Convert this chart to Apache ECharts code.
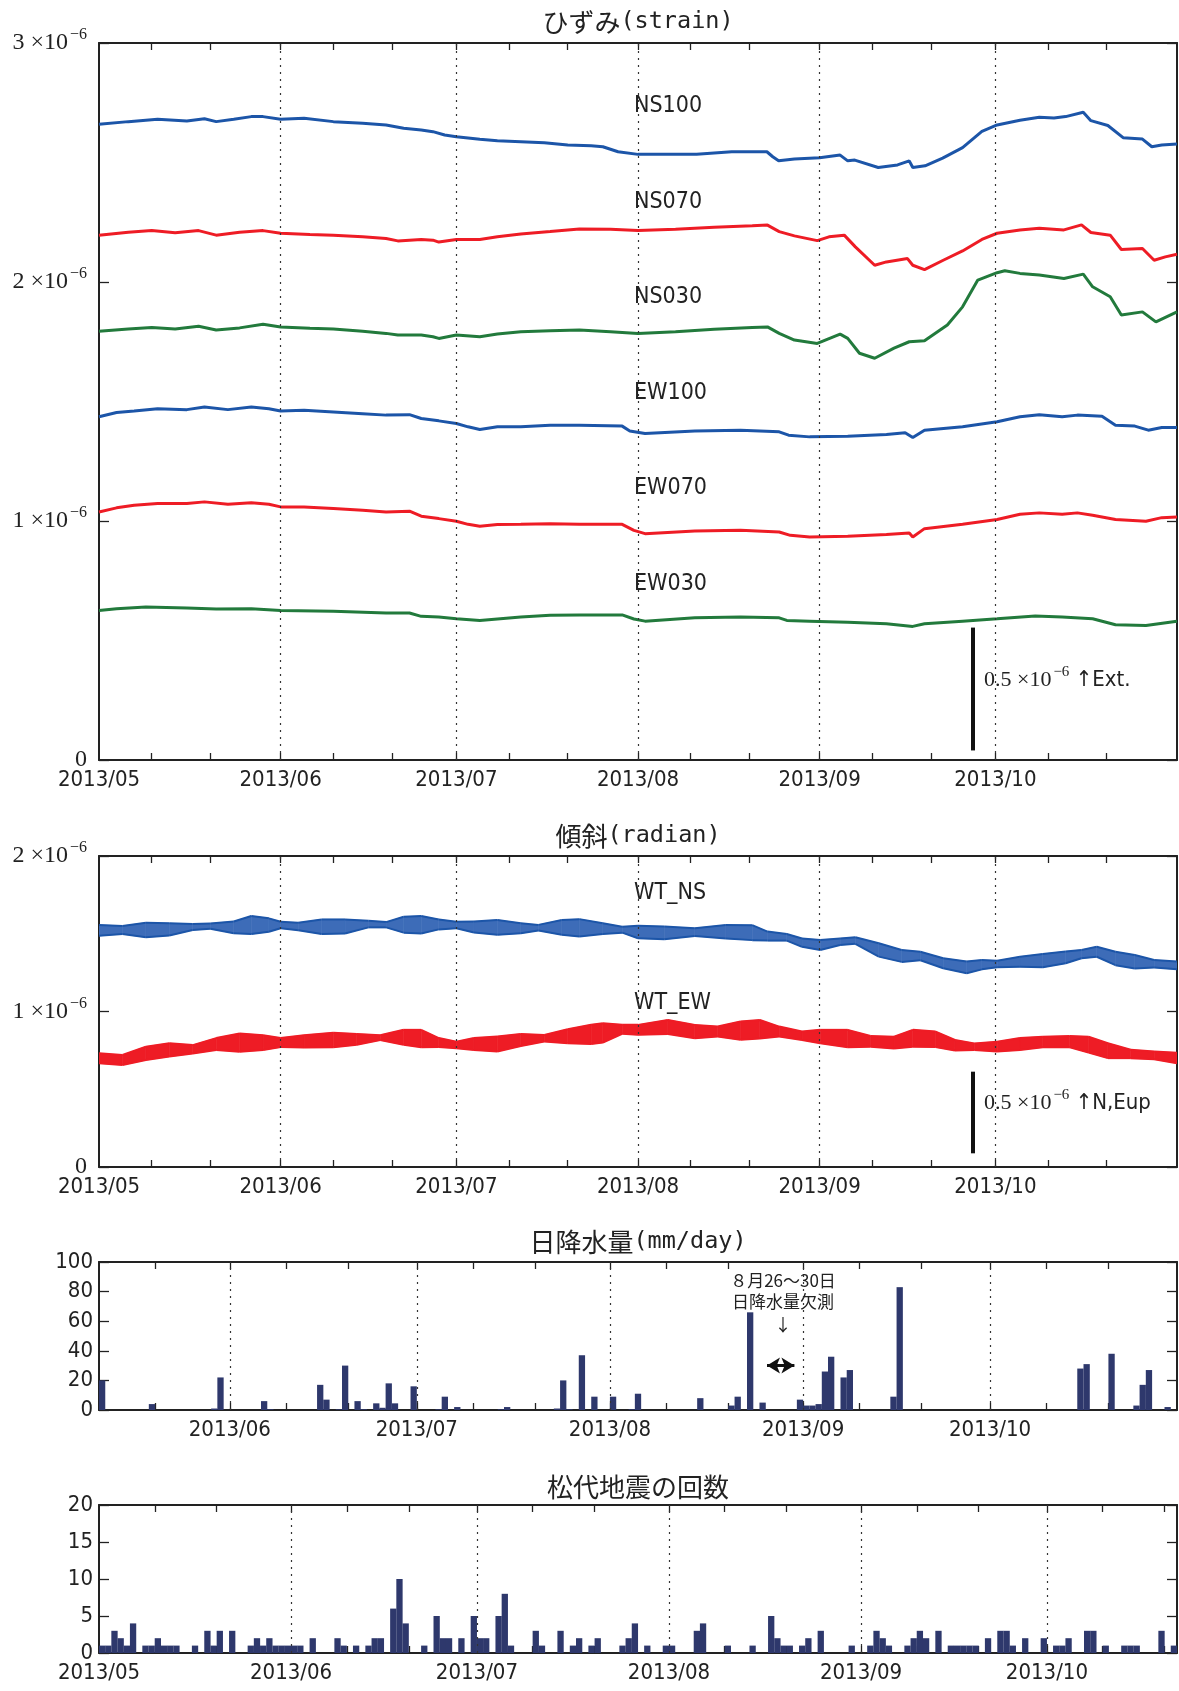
<!DOCTYPE html>
<html><head><meta charset="utf-8">
<script src="https://cdn.jsdelivr.net/npm/echarts@6/dist/echarts.min.js"></script>
<style>html,body{margin:0;padding:0;background:#fff}#c{width:1179px;height:1691px}</style>
</head><body><div id="c"></div>
<script>
// ---- axis tick labels / positions (day index from 2013-05-01) ----
const MONTH_DAYS = [0, 31, 61, 92, 123, 153];
const MONTH_LABELS = ['2013/05', '2013/06', '2013/07', '2013/08', '2013/09', '2013/10'];
const MINOR_DAYS = [9, 19, 40, 50, 70, 80, 101, 111, 132, 142, 162, 172];

// ---- strain (x1e-6): [day, value] ----
const NS100 = [[0,2.660],[5,2.671],[10,2.681],[15,2.674],[18,2.683],[20,2.671],[23,2.681],[26,2.692],[28,2.692],[31,2.681],[35,2.685],[40,2.671],[45,2.664],[49,2.657],[52,2.643],[55,2.636],[57,2.629],[59,2.615],[61,2.608],[65,2.597],[68,2.591],[72,2.587],[76,2.583],[80,2.573],[84,2.570],[86,2.566],[88.6,2.545],[92,2.534],[97,2.535],[102,2.535],[108,2.545],[114,2.545],[115,2.524],[116,2.507],[118.7,2.515],[123,2.520],[126.5,2.531],[127.8,2.507],[129,2.510],[133,2.479],[136.3,2.490],[138.3,2.507],[138.9,2.479],[141,2.486],[144,2.518],[147.4,2.562],[150.7,2.630],[153.3,2.657],[157.2,2.677],[160.5,2.689],[163,2.686],[165,2.692],[168,2.710],[169.3,2.675],[172.2,2.655],[174.8,2.604],[178.1,2.598],[179.7,2.566],[181.4,2.573],[184,2.577]];
const NS070 = [[0,2.196],[5,2.208],[9,2.215],[13,2.206],[17,2.215],[20,2.196],[24,2.208],[28,2.215],[31,2.204],[36,2.199],[40,2.196],[45,2.189],[49,2.182],[51,2.172],[55,2.178],[57,2.175],[58,2.167],[61,2.178],[65,2.178],[68,2.189],[72,2.201],[77,2.211],[82,2.222],[87.3,2.221],[92,2.215],[98.4,2.221],[105,2.229],[111.5,2.235],[114.1,2.238],[116.1,2.211],[118.7,2.193],[122.6,2.173],[124.6,2.189],[127.2,2.196],[129.1,2.147],[132.4,2.070],[134.4,2.084],[138,2.098],[138.9,2.070],[140.9,2.052],[144.1,2.091],[147.4,2.130],[150.7,2.178],[153.3,2.204],[157.2,2.218],[160.5,2.225],[164.7,2.218],[167.7,2.239],[169.3,2.207],[172.6,2.196],[174.5,2.136],[178.1,2.140],[180.1,2.091],[182,2.105],[184,2.116]];
const NS030 = [[0,1.794],[5,1.803],[9,1.810],[13,1.803],[17,1.815],[20,1.799],[24,1.808],[28,1.823],[31,1.812],[36,1.806],[40,1.803],[45,1.794],[49,1.785],[51,1.778],[55,1.778],[57,1.771],[58,1.764],[61,1.778],[65,1.771],[68,1.782],[72,1.792],[77,1.796],[82,1.799],[87.3,1.792],[92,1.785],[98.4,1.792],[105,1.802],[111.5,1.810],[114.1,1.812],[116.1,1.785],[118.7,1.757],[122.6,1.743],[126.5,1.782],[127.8,1.764],[129.8,1.702],[132.4,1.681],[135.7,1.723],[138.3,1.750],[140.9,1.754],[144.8,1.820],[147.4,1.896],[150,2.008],[153.3,2.039],[154.6,2.047],[157.2,2.036],[160.5,2.029],[164.7,2.015],[168,2.033],[169.6,1.980],[172.6,1.938],[174.5,1.862],[178.1,1.875],[180.4,1.833],[184,1.875]];
const EW100 = [[0,1.436],[3,1.454],[6,1.460],[10,1.470],[15,1.466],[18,1.477],[22,1.466],[26,1.477],[29,1.470],[31,1.460],[35,1.463],[40,1.456],[45,1.449],[49,1.443],[53,1.445],[55,1.429],[58,1.419],[61,1.408],[63,1.394],[65,1.383],[68,1.394],[72,1.394],[77,1.401],[82,1.401],[89.3,1.397],[90.6,1.377],[93.2,1.366],[101.7,1.377],[109.5,1.380],[116.1,1.373],[117.7,1.359],[121.3,1.352],[127.8,1.355],[134.4,1.362],[137.6,1.369],[138.9,1.349],[140.9,1.380],[147.4,1.394],[153.3,1.415],[157.2,1.436],[160.5,1.445],[164.4,1.436],[167,1.443],[171.2,1.438],[173.5,1.401],[176.8,1.397],[179.1,1.380],[181.4,1.391],[184,1.391]];
const EW070 = [[0,1.038],[3,1.055],[6,1.066],[10,1.073],[15,1.073],[18,1.080],[22,1.070],[26,1.076],[29,1.070],[31,1.059],[35,1.059],[40,1.052],[45,1.045],[49,1.038],[53,1.041],[55,1.020],[58,1.010],[61,0.999],[63,0.986],[65,0.978],[68,0.985],[72,0.986],[77,0.989],[82,0.986],[89.3,0.986],[91.3,0.961],[93.2,0.947],[101.7,0.958],[109.5,0.961],[116.1,0.954],[118,0.940],[121.3,0.933],[127.8,0.936],[134.4,0.944],[138.3,0.950],[138.9,0.933],[140.9,0.968],[147.4,0.986],[153.3,1.006],[157.2,1.028],[160.5,1.034],[164.4,1.028],[167,1.034],[169.6,1.024],[173.5,1.006],[178.7,0.999],[181.4,1.014],[184,1.017]];
const EW030 = [[0,0.626],[3,0.633],[8,0.640],[15,0.636],[20,0.632],[26,0.633],[31,0.626],[40,0.622],[49,0.615],[53,0.615],[55,0.601],[58,0.598],[61,0.591],[65,0.584],[68,0.590],[72,0.598],[77,0.606],[82,0.607],[89.3,0.607],[91.3,0.590],[93.2,0.581],[101.7,0.595],[109.5,0.598],[116.1,0.595],[117.4,0.584],[121.3,0.581],[127.8,0.576],[134.4,0.570],[138.9,0.559],[140.9,0.570],[147.4,0.581],[153.3,0.591],[159.8,0.603],[164.4,0.598],[169.6,0.591],[173.5,0.566],[178.7,0.563],[184,0.581]];

// ---- tilt (x1e-6): [day, centre, half tidal range] ----
const WT_NS = [[0,1.522,0.035],[4,1.524,0.026],[8,1.524,0.047],[12,1.528,0.039],[16,1.543,0.019],[19,1.549,0.017],[23,1.541,0.038],[26,1.556,0.058],[29,1.556,0.043],[31,1.556,0.021],[34,1.547,0.024],[38,1.545,0.047],[42,1.547,0.045],[46,1.562,0.021],[49,1.558,0.017],[52,1.558,0.051],[55,1.558,0.056],[58,1.560,0.032],[61,1.556,0.021],[64,1.543,0.035],[68,1.541,0.048],[72,1.535,0.032],[75,1.539,0.018],[79,1.541,0.048],[82,1.538,0.056],[86,1.533,0.034],[89.3,1.526,0.019],[92,1.511,0.040],[96.5,1.505,0.041],[101.7,1.511,0.025],[107,1.513,0.043],[111.5,1.507,0.048],[114.1,1.485,0.029],[117.4,1.477,0.021],[120,1.443,0.027],[123.1,1.428,0.032],[126.5,1.449,0.021],[129.1,1.456,0.021],[133.1,1.396,0.043],[137,1.357,0.038],[140.2,1.357,0.027],[144.1,1.310,0.032],[148.1,1.284,0.038],[150.7,1.301,0.030],[153.3,1.305,0.021],[157.2,1.320,0.032],[161.1,1.327,0.043],[165,1.348,0.038],[167.7,1.369,0.027],[170.3,1.384,0.032],[173.5,1.341,0.043],[176.8,1.320,0.043],[180.1,1.307,0.024],[184,1.296,0.025]];
const WT_EW = [[0,0.699,0.032],[4,0.688,0.032],[8,0.731,0.043],[12,0.753,0.043],[16,0.757,0.027],[20,0.791,0.038],[24,0.800,0.059],[28,0.800,0.048],[31,0.800,0.029],[35,0.808,0.040],[40,0.817,0.047],[44,0.821,0.035],[48,0.832,0.016],[52,0.834,0.048],[55,0.826,0.056],[58,0.800,0.029],[61,0.785,0.021],[64,0.791,0.038],[68,0.791,0.048],[72,0.817,0.039],[76,0.828,0.021],[80,0.841,0.045],[84,0.853,0.062],[86,0.862,0.062],[89.3,0.886,0.029],[92,0.882,0.032],[97.1,0.901,0.045],[101.7,0.871,0.043],[105.6,0.871,0.032],[109.5,0.877,0.059],[112.8,0.886,0.059],[116.1,0.871,0.032],[120,0.844,0.027],[123.1,0.839,0.043],[127.8,0.826,0.056],[131.7,0.808,0.034],[135.7,0.800,0.038],[138.9,0.828,0.054],[142.8,0.821,0.050],[146.1,0.783,0.034],[149.4,0.774,0.021],[153.3,0.774,0.032],[157.2,0.791,0.038],[161.1,0.804,0.034],[165.7,0.806,0.036],[168.9,0.787,0.051],[172.2,0.748,0.048],[176.1,0.727,0.027],[180.1,0.718,0.025],[184,0.701,0.034]];

// ---- daily rainfall (mm/day): day index, value ----
const RAIN_DAYS = [10,18,28,29,36,37,45,46,48,49,51,52,54,55,56,57,60,64,65,67,74,75,83,84,85,87,89,92,95,96,106,111,112,114,116,122,123,124,125,126,127,129,130,137,138,167,168,172,176,177,178,181];
const RAIN_MM   = [20,4,1,22,6,0.5,17,7,0.5,30,6,0.5,4.5,1.5,18,4.5,16,0.5,9,2,0.5,2,1,20,0.5,37,9,9,0.5,11,8,3,9,66,5,7,3,3,4,26,36,22,27,9,83,28,31,38,3,17,27,2];

// ---- daily earthquake counts, day 0 = 2013-05-01 ... day 173 = 2013-10-21 ----
const EQ_COUNTS = [
 1,1,3,2,1,4,0,1,1,2,
 1,1,1,0,0,1,0,3,1,3,
 0,3,0,0,1,2,1,2,1,1,
 1,1,1,0,2,0,0,0,2,1,
 0,1,0,1,2,2,0,6,10,4,
 0,0,1,0,5,2,2,0,2,0,
 5,2,2,0,5,8,1,0,0,0,
 3,1,0,0,3,0,1,2,0,1,
 2,0,0,0,1,2,4,0,1,0,
 0,1,1,0,0,0,3,4,0,0,
 0,1,0,0,0,1,0,0,5,2,
 1,1,0,1,2,0,3,0,0,0,
 0,1,0,0,1,3,2,1,0,0,
 1,2,3,2,0,3,0,1,1,1,
 1,1,0,2,0,3,3,1,0,2,
 0,0,2,0,1,1,2,0,0,3,
 3,0,1,0,0,1,1,1,0,0,
 0,3,0,1];

// ---- styling ----
const FONT_NARROW = "'Liberation Sans Narrow','DejaVu Sans Condensed','Noto Sans CJK JP',sans-serif";
const FONT_SERIF = "'Liberation Serif','DejaVu Serif',serif";
const FONT_CJK = "'Noto Sans CJK JP',sans-serif";
const FONT_MONO = "'DejaVu Sans Mono','Noto Sans CJK JP',monospace";
const INK = '#222';
const BLUE = '#1c55a8', RED = '#ee1c25', GREEN = '#227a3c', BAR = '#2e386c';

const LABEL_OF = {};
MONTH_DAYS.forEach((d, i) => { LABEL_OF[d] = MONTH_LABELS[i]; });

const GRIDS = [
  {left: 99, top: 43, width: 1078, height: 717},
  {left: 99, top: 856, width: 1078, height: 311},
  {left: 99, top: 1262, width: 1078, height: 148},
  {left: 99, top: 1505, width: 1078, height: 148}
];
const X_RANGE = [[0, 184], [0, 184], [10, 183], [0, 174]];

const xAxis = [], yAxis = [];
function addAxes(g, yMax, yInterval, yLabel) {
  const [mn, mx] = X_RANGE[g];
  const ticks = MONTH_DAYS.concat(MINOR_DAYS).filter(d => d > mn && d < mx).sort((a, b) => a - b);
  const labs = MONTH_DAYS.filter(d => d >= mn && d < mx);
  const line = {show: true, onZero: false, lineStyle: {color: INK, width: 2}};
  ['bottom', 'top'].forEach(pos => {
    xAxis.push({
      type: 'value', gridIndex: g, min: mn, max: mx, position: pos,
      axisLine: line, splitLine: {show: false},
      axisTick: {show: true, inside: true, length: 7, customValues: ticks, lineStyle: {color: INK, width: 1.3}},
      axisLabel: pos === 'bottom' ? {
        show: true, customValues: labs, formatter: v => LABEL_OF[Math.round(v)] || '',
        fontFamily: FONT_NARROW, fontSize: 22, color: INK, margin: 9,
        showMinLabel: true, showMaxLabel: true, hideOverlap: false
      } : {show: false}
    });
  });
  ['left', 'right'].forEach(pos => {
    yAxis.push({
      type: 'value', gridIndex: g, min: 0, max: yMax, interval: yInterval, position: pos,
      axisLine: line, splitLine: {show: false},
      axisTick: {show: true, inside: true, length: 10, lineStyle: {color: INK, width: 1.3}},
      axisLabel: pos === 'left' ? yLabel : {show: false}
    });
  });
}
const sciLabel = {
  show: true, margin: 12,
  formatter: v => v === 0 ? '{n|0}' : '{n|' + v + ' ×10}{s|−6}',
  rich: {
    n: {fontFamily: FONT_SERIF, fontSize: 24, color: INK},
    s: {fontFamily: FONT_SERIF, fontSize: 16, color: INK, padding: [0, 0, 16, 2]}
  }
};
const plainLabel = {show: true, margin: 6, fontFamily: FONT_NARROW, fontSize: 22, color: INK};
addAxes(0, 3, 1, sciLabel);
addAxes(1, 2, 1, sciLabel);
addAxes(2, 100, 20, plainLabel);
addAxes(3, 20, 5, plainLabel);

const series = [];
const ax = g => ({xAxisIndex: 2 * g, yAxisIndex: 2 * g});
function monthLines(g) {
  const [mn, mx] = X_RANGE[g];
  series.push(Object.assign({
    type: 'line', data: [], silent: true,
    markLine: {
      silent: true, symbol: 'none', label: {show: false},
      lineStyle: {type: [2, 5], color: '#333', width: 1.2},
      data: MONTH_DAYS.filter(d => d > mn && d < mx).map(d => ({xAxis: d}))
    }
  }, ax(g)));
}
[0, 1, 2, 3].forEach(monthLines);

// strain lines
[[NS100, BLUE], [NS070, RED], [NS030, GREEN], [EW100, BLUE], [EW070, RED], [EW030, GREEN]].forEach(([d, c]) => {
  series.push(Object.assign({type: 'line', data: d, symbol: 'none', silent: true,
    lineStyle: {color: c, width: 3}}, ax(0)));
});
// tilt tidal bands: filled envelope between successive samples, with darker edge lines
function band(arr, color, fill) {
  series.push(Object.assign({
    type: 'custom', silent: true, clip: true,
    data: arr.map(r => [r[0], r[1] - r[2], r[1] + r[2]]),
    renderItem: (params, api) => {
      const i = params.dataIndex;
      if (i >= arr.length - 1) return null;
      const a = arr[i], b = arr[i + 1];
      const lo0 = api.coord([a[0], a[1] - a[2]]), lo1 = api.coord([b[0], b[1] - b[2]]);
      const hi0 = api.coord([a[0], a[1] + a[2]]), hi1 = api.coord([b[0], b[1] + b[2]]);
      return {type: 'group', children: [
        {type: 'polygon', shape: {points: [lo0, lo1, hi1, hi0]}, style: {fill: fill, stroke: fill, lineWidth: 0.6}},
        {type: 'polyline', shape: {points: [lo0, lo1]}, style: {stroke: color, lineWidth: 2, fill: null}},
        {type: 'polyline', shape: {points: [hi0, hi1]}, style: {stroke: color, lineWidth: 2, fill: null}}
      ]};
    }
  }, ax(1)));
}
band(WT_NS, BLUE, '#3d6cb8');
band(WT_EW, RED, RED);

// scale bars (0.5e-6)
function scaleBar(g, day, y0, y1) {
  series.push(Object.assign({
    type: 'line', data: [], silent: true,
    markLine: {silent: true, symbol: 'none', label: {show: false},
      lineStyle: {type: 'solid', color: '#111', width: 4},
      data: [[{coord: [day, y0]}, {coord: [day, y1]}]]}
  }, ax(g)));
}
scaleBar(0, 149.1, 0.04, 0.554);
scaleBar(1, 149.1, 0.088, 0.613);

// rainfall
series.push(Object.assign({type: 'bar', silent: true, barWidth: 6.3,
  data: RAIN_DAYS.map((d, i) => [d + 0.5, RAIN_MM[i]]),
  itemStyle: {color: BAR}}, ax(2)));
series.push(Object.assign({
  type: 'line', data: [], silent: true,
  markLine: {silent: true, symbol: ['arrow', 'arrow'], symbolSize: [12, 13], label: {show: false},
    lineStyle: {type: 'solid', color: '#111', width: 3},
    data: [[{coord: [117.2, 30]}, {coord: [121.6, 30]}]]}
}, ax(2)));

// earthquakes
series.push(Object.assign({type: 'bar', silent: true, barWidth: 6.3,
  data: EQ_COUNTS.map((v, i) => [i + 0.5, v]),
  itemStyle: {color: BAR}}, ax(3)));

// ---- text annotations ----
function title(y, cjk, latin) {
  return {type: 'text', x: 638, y, silent: true, style: {
    text: '{c|' + cjk + '}' + (latin ? '{l|' + latin + '}' : ''),
    align: 'center', verticalAlign: 'middle',
    rich: {c: {fontFamily: FONT_CJK, fontSize: 26, fill: INK}, l: {fontFamily: FONT_MONO, fontSize: 23.5, fill: INK}}
  }};
}
function tag(x, y, t) {
  return {type: 'text', x, y, silent: true, style: {text: t, fontFamily: FONT_NARROW, fontSize: 23,
    fill: INK, align: 'left', verticalAlign: 'middle'}};
}
function scaleText(x, y, t) {
  return {type: 'text', x, y, silent: true, style: {
    text: '{n|0.5 ×10}{s|−6}{g| ↑' + t + '}', align: 'left', verticalAlign: 'middle',
    rich: {
      n: {fontFamily: FONT_SERIF, fontSize: 22, fill: INK},
      s: {fontFamily: FONT_SERIF, fontSize: 15, fill: INK, padding: [0, 0, 15, 2]},
      g: {fontFamily: FONT_NARROW, fontSize: 22, fill: INK}
    }
  }};
}
function note(y, t) {
  return {type: 'text', x: 783, y, silent: true, style: {text: t, fontFamily: FONT_CJK, fontSize: 17,
    fill: INK, align: 'center', verticalAlign: 'middle'}};
}
const graphic = [
  title(22, 'ひずみ', '(strain)'),
  title(836, '傾斜', '(radian)'),
  title(1242, '日降水量', '(mm/day)'),
  title(1487, '松代地震の回数', ''),
  tag(634, 106, 'NS100'), tag(634, 202, 'NS070'), tag(634, 297, 'NS030'),
  tag(634, 393, 'EW100'), tag(634, 488, 'EW070'), tag(634, 584, 'EW030'),
  tag(634, 893, 'WT_NS'), tag(634, 1003, 'WT_EW'),
  scaleText(984, 680, 'Ext.'),
  scaleText(984, 1103, 'N,Eup'),
  note(1281, '８月26～30日'),
  note(1302, '日降水量欠測'),
  note(1325, '↓')
];

const chart = echarts.init(document.getElementById('c'), null, {renderer: 'canvas'});
chart.setOption({
  animation: false,
  backgroundColor: '#fff',
  grid: GRIDS.map(g => Object.assign({outerBoundsMode: 'none', containLabel: false}, g)),
  xAxis, yAxis, series, graphic
});
</script></body></html>
